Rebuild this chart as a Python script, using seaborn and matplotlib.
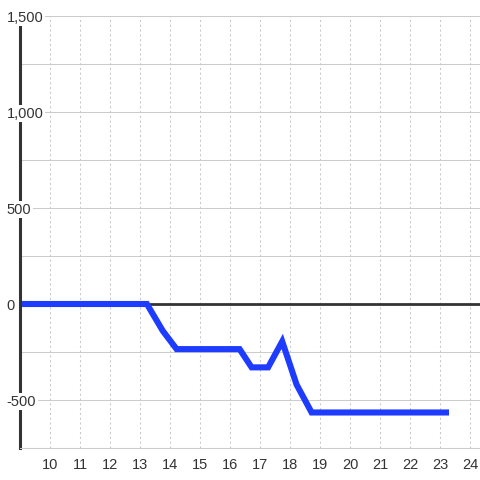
import matplotlib
matplotlib.use("Agg")
import matplotlib.pyplot as plt
import pandas as pd
import seaborn as sns

# Values
hours = [9.0, 13.23, 13.76, 14.22, 16.32, 16.72, 17.27, 17.74, 18.22, 18.72, 23.3]
values = [0, 0, -140, -235, -235, -330, -330, -195, -420, -565, -565]
x_ticks = list(range(10, 25))
y_ticks = [-500, 0, 500, 1000, 1500]
y_grid = [-750, -500, -250, 0, 250, 500, 750, 1000, 1250, 1500]

df = pd.DataFrame({"hour": hours, "value": values})

sns.set_style("white")
plt.rcParams["font.family"] = ["Liberation Sans", "DejaVu Sans"]

fig = plt.figure(figsize=(4.8, 4.8), dpi=100)
ax = fig.add_axes([20 / 480, 32 / 480, 460 / 480, 432 / 480])

# Grid lines
for y in y_grid:
    ax.axhline(y, color="#cccccc", lw=0.75, zorder=0)
for x in x_ticks:
    ax.axvline(x, color="#c8c8c8", lw=0.75, ls=(0, (2, 2.6)), zorder=0)
ax.axhline(0, color="#333333", lw=2, zorder=1)

sns.lineplot(data=df, x="hour", y="value", color="#1e3cff", lw=4.4,
             ax=ax, zorder=2, solid_joinstyle="miter", solid_capstyle="butt")

ax.set_xlim(9, 24.333)
ax.set_ylim(-750, 1500)
ax.set_xticks(x_ticks)
ax.set_yticks(y_ticks)
ax.set_yticklabels([f"{v:,}" for v in y_ticks])
ax.set_xlabel("")
ax.set_ylabel("")

for side in ["top", "right"]:
    ax.spines[side].set_visible(False)
ax.spines["left"].set_color("#333333")
ax.spines["left"].set_linewidth(2.2)
ax.spines["bottom"].set_color("#cccccc")
ax.spines["bottom"].set_linewidth(0.75)

ax.tick_params(axis="both", length=0, labelsize=10.5, labelcolor="#333333")
ax.tick_params(axis="x", pad=7)
ax.tick_params(axis="y", pad=9.5)
for lab in ax.get_yticklabels():
    lab.set_horizontalalignment("left")
    lab.set_bbox(dict(facecolor="white", edgecolor="none", pad=1.0))
# labels sit on top of the left spine
ax.yaxis.set_zorder(3)

fig.savefig("out.png", dpi=100)
